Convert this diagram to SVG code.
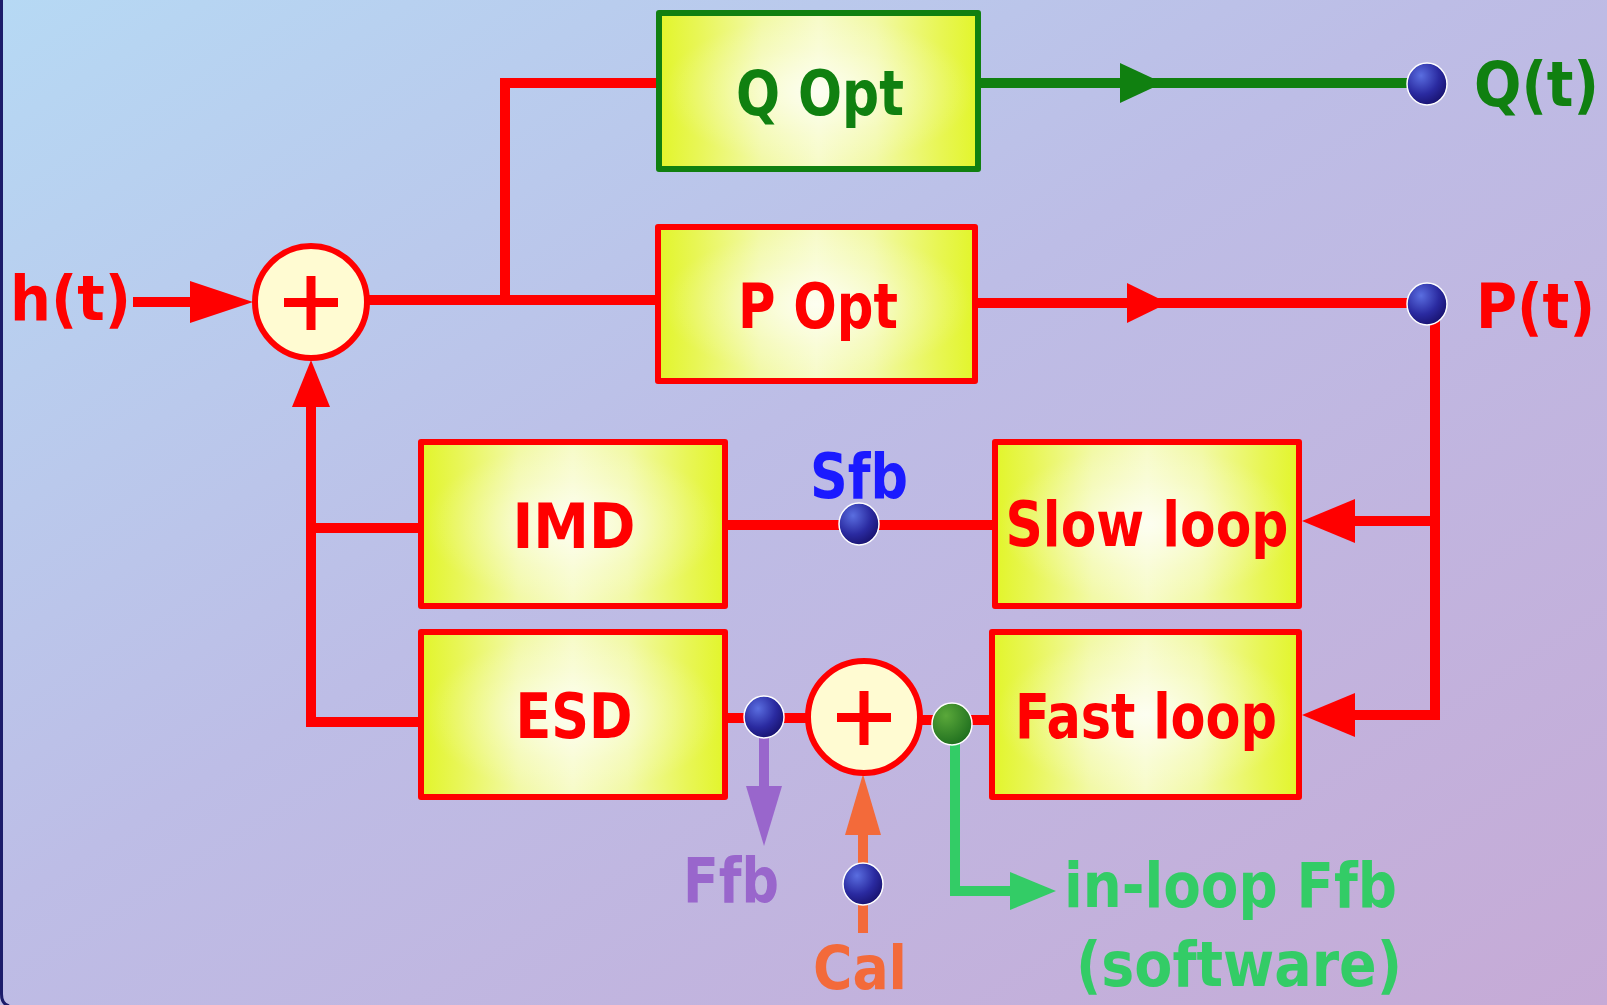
<svg xmlns="http://www.w3.org/2000/svg" width="1607" height="1005" viewBox="0 0 1607 1005">
<defs>
<linearGradient id="bg" x1="0" y1="0" x2="1" y2="1">
<stop offset="0" stop-color="#b6d9f4"/>
<stop offset="0.45" stop-color="#bdbde6"/>
<stop offset="1" stop-color="#c6aad6"/>
</linearGradient>
<linearGradient id="box" x1="0" y1="0" x2="1" y2="0">
<stop offset="0" stop-color="#e2f52a"/>
<stop offset="0.12" stop-color="#e8f655"/>
<stop offset="0.32" stop-color="#f2f9a6"/>
<stop offset="0.5" stop-color="#f7fbc8"/>
<stop offset="0.68" stop-color="#f2f9a6"/>
<stop offset="0.88" stop-color="#e8f655"/>
<stop offset="1" stop-color="#e2f52a"/>
</linearGradient>
<radialGradient id="glow" cx="0.5" cy="0.5" r="0.5">
<stop offset="0" stop-color="#ffffff" stop-opacity="0.75"/>
<stop offset="0.6" stop-color="#ffffff" stop-opacity="0.25"/>
<stop offset="1" stop-color="#ffffff" stop-opacity="0"/>
</radialGradient>
<radialGradient id="dot" cx="0.35" cy="0.3" r="0.75">
<stop offset="0" stop-color="#5a6ee0"/>
<stop offset="0.6" stop-color="#2a2aa0"/>
<stop offset="1" stop-color="#18126e"/>
</radialGradient>
<radialGradient id="gdot" cx="0.35" cy="0.3" r="0.75">
<stop offset="0" stop-color="#5aa83a"/>
<stop offset="1" stop-color="#1e6e1e"/>
</radialGradient>
</defs>
<style>
.t{font-family:"DejaVu Sans Condensed","DejaVu Sans",sans-serif;font-weight:bold;font-size:63px}
.red{fill:#ff0000}
.rbox{fill:url(#box);stroke:#ff0000;stroke-width:6;stroke-linejoin:round}
.gbox{fill:url(#box);stroke:#108010;stroke-width:6;stroke-linejoin:round}
.glow{fill:url(#glow)}
.sum{fill:#fffbd2;stroke:#ff0000;stroke-width:6}
.wr{fill:none;stroke:#ff0000;stroke-width:10}
.dot{fill:url(#dot);stroke:#ffffff;stroke-width:1.5}
</style>
<rect x="0" y="0" width="1607" height="1005" fill="url(#bg)"/>
<path d="M1.5,-5 V994 Q1.5,1004 9,1006" fill="none" stroke="#1c1c6a" stroke-width="3"/>

<g id="connectors">
<line class="wr" x1="133" y1="302" x2="200" y2="302"/>
<polygon class="red" points="190,281 253,302 190,323"/>
<polyline class="wr" points="367,300 658,300"/>
<polyline class="wr" points="505,300 505,83 659,83"/>
<line x1="980" y1="83" x2="1420" y2="83" stroke="#108010" stroke-width="10"/>
<polygon fill="#108010" points="1120,63 1163,83 1120,103"/>
<line class="wr" x1="978" y1="303" x2="1420" y2="303"/>
<polygon class="red" points="1127,283 1168,303 1127,323"/>
<polyline class="wr" points="1435,310 1435,715 1340,715"/>
<line class="wr" x1="1435" y1="521" x2="1340" y2="521"/>
<polygon class="red" points="1355,499 1302,521 1355,543"/>
<polygon class="red" points="1355,693 1302,715 1355,737"/>
<polyline class="wr" points="421,528 311,528"/>
<polyline class="wr" points="421,722 311,722 311,400"/>
<polygon class="red" points="292,407 311,360 330,407"/>
<line class="wr" x1="728" y1="525" x2="995" y2="525"/>
<line class="wr" x1="728" y1="718" x2="808" y2="718"/>
<line class="wr" x1="920" y1="720" x2="992" y2="720"/>
<line x1="764" y1="735" x2="764" y2="790" stroke="#9966cc" stroke-width="10"/>
<polygon fill="#9966cc" points="746,786 764,846 782,786"/>
<line x1="863" y1="933" x2="863" y2="830" stroke="#f36a3a" stroke-width="10"/>
<polygon fill="#f36a3a" points="845,835 863,774 881,835"/>
<polyline points="955,737 955,891 1015,891" fill="none" stroke="#33cc66" stroke-width="10"/>
<polygon fill="#33cc66" points="1010,872 1056,891 1010,910"/>
</g>

<g id="sum1">
<circle class="sum" cx="311" cy="302" r="56"/>
<rect class="red" x="284" y="298" width="54" height="9"/>
<rect class="red" x="306.5" y="276" width="9" height="54"/>
</g>
<g id="sum2">
<circle class="sum" cx="864" cy="717" r="56"/>
<rect class="red" x="837" y="713" width="54" height="9"/>
<rect class="red" x="859.5" y="691" width="9" height="54"/>
</g>

<g id="qopt">
<rect class="gbox" x="659" y="13" width="319" height="156"/>
<rect class="glow" x="662" y="16" width="313" height="150"/>
<text class="t" x="820" y="115" text-anchor="middle" fill="#108010" textLength="168" lengthAdjust="spacingAndGlyphs">Q Opt</text>
</g>
<g id="popt">
<rect class="rbox" x="658" y="227" width="317" height="154"/>
<rect class="glow" x="661" y="230" width="311" height="148"/>
<text class="t red" x="818" y="328" text-anchor="middle" textLength="160" lengthAdjust="spacingAndGlyphs">P Opt</text>
</g>
<g id="imd">
<rect class="rbox" x="421" y="442" width="304" height="164"/>
<rect class="glow" x="424" y="445" width="298" height="158"/>
<text class="t red" x="574" y="548" text-anchor="middle" textLength="123" lengthAdjust="spacingAndGlyphs">IMD</text>
</g>
<g id="esd">
<rect class="rbox" x="421" y="632" width="304" height="165"/>
<rect class="glow" x="424" y="635" width="298" height="159"/>
<text class="t red" x="574" y="738" text-anchor="middle" textLength="117" lengthAdjust="spacingAndGlyphs">ESD</text>
</g>
<g id="slow">
<rect class="rbox" x="995" y="442" width="304" height="164"/>
<rect class="glow" x="998" y="445" width="298" height="158"/>
<text class="t red" x="1147" y="546" text-anchor="middle" textLength="283" lengthAdjust="spacingAndGlyphs">Slow loop</text>
</g>
<g id="fast">
<rect class="rbox" x="992" y="632" width="307" height="165"/>
<rect class="glow" x="995" y="635" width="301" height="159"/>
<text class="t red" x="1146" y="738" text-anchor="middle" textLength="262" lengthAdjust="spacingAndGlyphs">Fast loop</text>
</g>

<g id="ht"><text class="t red" x="10" y="320" textLength="121" lengthAdjust="spacingAndGlyphs">h(t)</text></g>
<g id="qt">
<ellipse class="dot" cx="1427" cy="84" rx="20" ry="21"/>
<text class="t" x="1474" y="106" fill="#108010" textLength="125" lengthAdjust="spacingAndGlyphs">Q(t)</text>
</g>
<g id="pt">
<ellipse class="dot" cx="1427" cy="304" rx="20" ry="21"/>
<text class="t red" x="1476" y="328" textLength="119" lengthAdjust="spacingAndGlyphs">P(t)</text>
</g>
<g id="sfb">
<ellipse class="dot" cx="859" cy="524" rx="20" ry="21"/>
<text class="t" x="859" y="498" text-anchor="middle" fill="#1a1aff" textLength="98" lengthAdjust="spacingAndGlyphs">Sfb</text>
</g>
<g id="ffb">
<ellipse class="dot" cx="764" cy="717" rx="20" ry="21"/>
<text class="t" x="683" y="902" fill="#9966cc" textLength="96" lengthAdjust="spacingAndGlyphs">Ffb</text>
</g>
<g id="cal">
<ellipse class="dot" cx="863" cy="884" rx="20" ry="21"/>
<text class="t" x="813" y="989" fill="#f36a3a" style="font-size:60px" textLength="94" lengthAdjust="spacingAndGlyphs">Cal</text>
</g>
<g id="inloop">
<ellipse cx="952" cy="724" rx="20" ry="21" fill="url(#gdot)" stroke="#ffffff" stroke-width="1.5"/>
<text class="t" x="1064" y="907" fill="#33cc66" textLength="333" lengthAdjust="spacingAndGlyphs">in-loop Ffb</text>
<text class="t" x="1076" y="986" fill="#33cc66" textLength="326" lengthAdjust="spacingAndGlyphs">(software)</text>
</g>
</svg>
